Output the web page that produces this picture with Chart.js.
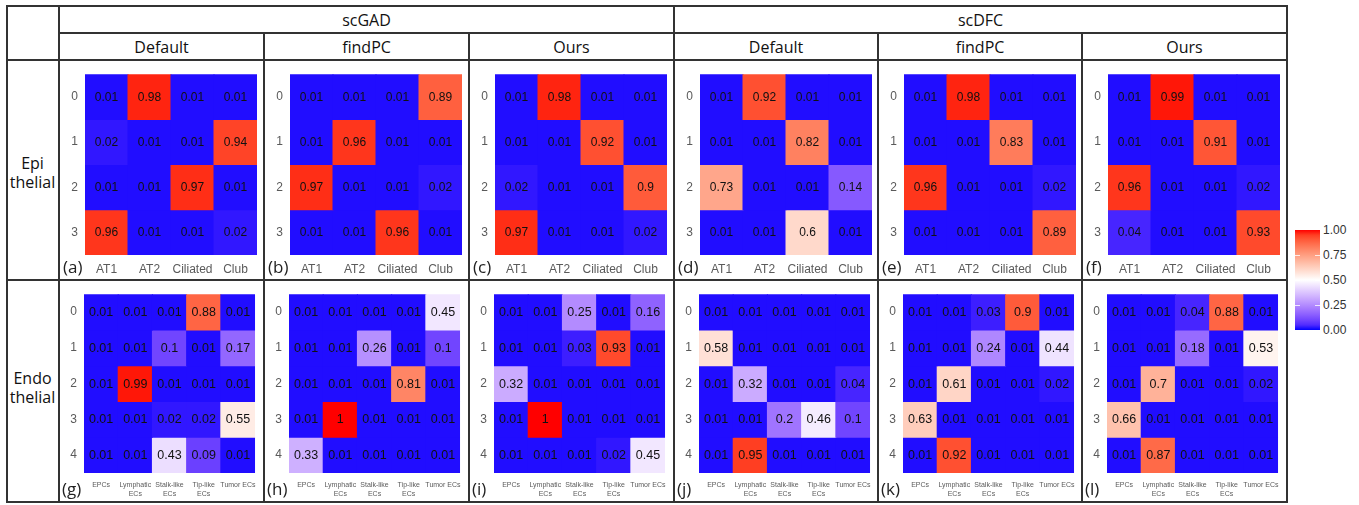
<!DOCTYPE html>
<html>
<head>
<meta charset="utf-8">
<script src="https://cdn.jsdelivr.net/npm/chart.js@4.4.1/dist/chart.umd.min.js"></script>
<style>
body { margin:0; background:#fff; width:1359px; height:505px; overflow:hidden; position:relative; font-family:"Open Sans", "Noto Sans", sans-serif; }
.ln { position:absolute; background:#333; z-index:5; }
.hd { position:absolute; text-align:center; font-size:16px; color:#111; }
.side { position:absolute; left:6px; width:53px; text-align:center; font-size:16px; line-height:19px; color:#111; }
.tag { position:absolute; font-size:17px; line-height:18px; color:#222; z-index:4; }
.lg { position:absolute; font-family:"Liberation Sans", Arial, sans-serif; font-size:12px; color:#333; }
canvas { position:absolute; }
</style>
</head>
<body>
<script>
// axis labels
const epiCols = ['AT1', 'AT2', 'Ciliated', 'Club'];
const epiRows = ['0', '1', '2', '3'];
const endoCols = ['EPCs', ['Lymphatic', 'ECs'], ['Stalk-like', 'ECs'], ['Tip-like', 'ECs'], 'Tumor ECs'];
const endoRows = ['0', '1', '2', '3', '4'];
const tools = ['scGAD', 'scDFC'];
const methods = ['Default', 'findPC', 'Ours'];
const tags = ['a','b','c','d','e','f','g','h','i','j','k','l'];
const legendTicks = [1.00, 0.75, 0.50, 0.25, 0.00];

// Epithelial, rows = cluster 0..3, cols = AT1 AT2 Ciliated Club
const epiGadDefault = [[0.01,0.98,0.01,0.01],[0.02,0.01,0.01,0.94],[0.01,0.01,0.97,0.01],[0.96,0.01,0.01,0.02]];
const epiGadFindPC  = [[0.01,0.01,0.01,0.89],[0.01,0.96,0.01,0.01],[0.97,0.01,0.01,0.02],[0.01,0.01,0.96,0.01]];
const epiGadOurs    = [[0.01,0.98,0.01,0.01],[0.01,0.01,0.92,0.01],[0.02,0.01,0.01,0.9],[0.97,0.01,0.01,0.02]];
const epiDfcDefault = [[0.01,0.92,0.01,0.01],[0.01,0.01,0.82,0.01],[0.73,0.01,0.01,0.14],[0.01,0.01,0.6,0.01]];
const epiDfcFindPC  = [[0.01,0.98,0.01,0.01],[0.01,0.01,0.83,0.01],[0.96,0.01,0.01,0.02],[0.01,0.01,0.01,0.89]];
const epiDfcOurs    = [[0.01,0.99,0.01,0.01],[0.01,0.01,0.91,0.01],[0.96,0.01,0.01,0.02],[0.04,0.01,0.01,0.93]];

// Endothelial, rows = cluster 0..4
const endoGadDefault = [[0.01,0.01,0.01,0.88,0.01],[0.01,0.01,0.1,0.01,0.17],[0.01,0.99,0.01,0.01,0.01],[0.01,0.01,0.02,0.02,0.55],[0.01,0.01,0.43,0.09,0.01]];
const endoGadFindPC  = [[0.01,0.01,0.01,0.01,0.45],[0.01,0.01,0.26,0.01,0.1],[0.01,0.01,0.01,0.81,0.01],[0.01,1,0.01,0.01,0.01],[0.33,0.01,0.01,0.01,0.01]];
const endoGadOurs    = [[0.01,0.01,0.25,0.01,0.16],[0.01,0.01,0.03,0.93,0.01],[0.32,0.01,0.01,0.01,0.01],[0.01,1,0.01,0.01,0.01],[0.01,0.01,0.01,0.02,0.45]];
const endoDfcDefault = [[0.01,0.01,0.01,0.01,0.01],[0.58,0.01,0.01,0.01,0.01],[0.01,0.32,0.01,0.01,0.04],[0.01,0.01,0.2,0.46,0.1],[0.01,0.95,0.01,0.01,0.01]];
const endoDfcFindPC  = [[0.01,0.01,0.03,0.9,0.01],[0.01,0.01,0.24,0.01,0.44],[0.01,0.61,0.01,0.01,0.02],[0.63,0.01,0.01,0.01,0.01],[0.01,0.92,0.01,0.01,0.01]];
const endoDfcOurs    = [[0.01,0.01,0.04,0.88,0.01],[0.01,0.01,0.18,0.01,0.53],[0.01,0.7,0.01,0.01,0.02],[0.66,0.01,0.01,0.01,0.01],[0.01,0.87,0.01,0.01,0.01]];

const epiPanels = [epiGadDefault, epiGadFindPC, epiGadOurs, epiDfcDefault, epiDfcFindPC, epiDfcOurs];
const endoPanels = [endoGadDefault, endoGadFindPC, endoGadOurs, endoDfcDefault, endoDfcFindPC, endoDfcOurs];

// blue - white - red, mixed in Lab like ggplot's gradient2
function lin(c) { c /= 255; return c <= 0.04045 ? c / 12.92 : Math.pow((c + 0.055) / 1.055, 2.4); }
function unlin(c) { var v = c <= 0.0031308 ? 12.92 * c : 1.055 * Math.pow(c, 1 / 2.4) - 0.055; return Math.round(Math.max(0, Math.min(1, v)) * 255); }
function toLab(rgb) {
	var R = lin(rgb[0]), G = lin(rgb[1]), B = lin(rgb[2]);
	var X = (0.4124 * R + 0.3576 * G + 0.1805 * B) / 0.95047;
	var Y = 0.2126 * R + 0.7152 * G + 0.0722 * B;
	var Z = (0.0193 * R + 0.1192 * G + 0.9505 * B) / 1.08883;
	var f = t => t > 0.008856 ? Math.cbrt(t) : 7.787 * t + 16 / 116;
	return [116 * f(Y) - 16, 500 * (f(X) - f(Y)), 200 * (f(Y) - f(Z))];
}
function fromLab(lab) {
	var fy = (lab[0] + 16) / 116, fx = fy + lab[1] / 500, fz = fy - lab[2] / 200;
	var g = t => t * t * t > 0.008856 ? t * t * t : (t - 16 / 116) / 7.787;
	var X = g(fx) * 0.95047, Y = g(fy), Z = g(fz) * 1.08883;
	var R = 3.2406 * X - 1.5372 * Y - 0.4986 * Z;
	var G = -0.9689 * X + 1.8758 * Y + 0.0415 * Z;
	var B = 0.0557 * X - 0.2040 * Y + 1.0570 * Z;
	return 'rgb(' + unlin(R) + ',' + unlin(G) + ',' + unlin(B) + ')';
}
const LOW = toLab([0,0,255]), MID = toLab([255,255,255]), HIGH = toLab([255,0,0]);
function fillFor(v) {
	var a, b, t;
	if (v < 0.5) { a = LOW; b = MID; t = v / 0.5; } else { a = MID; b = HIGH; t = (v - 0.5) / 0.5; }
	return fromLab([0,1,2].map(i => a[i] + (b[i] - a[i]) * t));
}

const cellText = {
	id: 'cellText',
	afterDatasetsDraw(chart, args, opts) {
		var ctx = chart.ctx;
		ctx.save();
		ctx.font = opts.size + 'px "Liberation Sans", Arial, sans-serif';
		ctx.fillStyle = '#111';
		ctx.textAlign = 'center';
		ctx.textBaseline = 'middle';
		chart.data.datasets.forEach((ds, i) => {
			chart.getDatasetMeta(i).data.forEach((bar, j) => {
				ctx.fillText(String(ds.values[j]), bar.x, (bar.y + bar.base) / 2 + 0.5);
			});
		});
		ctx.restore();
	}
};

function heatmap(left, top, w, h, rows, cols, vals, g) {
	var cv = document.createElement('canvas');
	cv.width = w; cv.height = h;
	cv.style.left = left + 'px'; cv.style.top = top + 'px';
	document.body.appendChild(cv);
	var datasets = rows.map((r, i) => ({
		label: r,
		data: cols.map(() => 1),
		values: vals[i],
		backgroundColor: vals[i].map(fillFor),
		borderWidth: 0,
		inflateAmount: 0.5,
		barPercentage: 1,
		categoryPercentage: 1
	}));
	new Chart(cv.getContext('2d'), {
		type: 'bar',
		data: { labels: cols, datasets: datasets },
		options: {
			responsive: false,
			animation: false,
			layout: { padding: { left: g.padL, right: g.padR, top: g.padT, bottom: g.padB } },
			plugins: { legend: { display: false }, tooltip: { enabled: false }, cellText: { size: g.size } },
			scales: {
				x: {
					stacked: true,
					grid: { display: false, drawTicks: false },
					border: { display: false },
					ticks: { color: '#5a5a5a', padding: g.xPad, maxRotation: 0, autoSkip: false,
						font: { family: '"Liberation Sans", Arial, sans-serif', size: g.xFont, lineHeight: 1.2 } },
					afterFit: s => { s.height = g.xH; }
				},
				y: { stacked: true, min: 0, max: rows.length, reverse: true, display: false },
				yl: {
					type: 'category', axis: 'y', position: 'left', labels: rows, offset: true,
					grid: { display: false, drawTicks: false },
					border: { display: false },
					ticks: { color: '#5a5a5a', padding: 7, font: { family: '"Liberation Sans", Arial, sans-serif', size: 12 } },
					afterFit: s => { s.width = g.yW; }
				}
			}
		},
		plugins: [cellText]
	});
}

const colX = [59, 264, 469, 674, 878, 1082, 1287];
const topGeo = { padL: 4, yW: 22, padR: 7, padT: 7, xH: 19, padB: 6, xPad: 7, xFont: 12, size: 12 };
const botGeo = { padL: 3, yW: 22, padR: 5, padT: 8, xH: 24, padB: 5, xPad: 8, xFont: 7, size: 12.5 };

epiPanels.forEach((p, k) => heatmap(colX[k], 60, 205, 220, epiRows, epiCols, p, topGeo));
endoPanels.forEach((p, k) => heatmap(colX[k], 280, 205, 222, endoRows, endoCols, p, botGeo));

function div(cls, css, html) {
	var d = document.createElement('div');
	d.className = cls;
	Object.assign(d.style, css);
	if (html !== undefined) d.innerHTML = html;
	document.body.appendChild(d);
	return d;
}

// table lines
[[5, 6, 1288], [32, 59, 1288], [59, 6, 1288], [279, 6, 1288], [501, 6, 1288]].forEach(l =>
	div('ln', { top: l[0] + 'px', left: l[1] + 'px', width: (l[2] - l[1]) + 'px', height: '2px' }));
[[6, 5], [58, 5], [673, 5], [1286, 5], [263, 32], [468, 32], [877, 32], [1081, 32]].forEach(l =>
	div('ln', { left: l[0] + 'px', top: l[1] + 'px', width: '2px', height: (503 - l[1]) + 'px' }));

// headers
tools.forEach((t, i) => div('hd', { left: colX[i * 3] + 'px', width: (colX[i * 3 + 3] - colX[i * 3]) + 'px', top: '7px', lineHeight: '26px' }, t));
for (var k = 0; k < 6; k++) {
	div('hd', { left: colX[k] + 'px', width: (colX[k + 1] - colX[k]) + 'px', top: '34px', lineHeight: '26px' }, methods[k % 3]);
	div('tag', { left: (colX[k] + 4) + 'px', top: '258px' }, '(' + tags[k] + ')');
	div('tag', { left: (colX[k] + 3) + 'px', top: '480px' }, '(' + tags[k + 6] + ')');
}
div('side', { top: '154px' }, 'Epi<br>thelial');
div('side', { top: '369px' }, 'Endo<br>thelial');

// colour bar legend
var stops = [];
for (var v = 1; v >= -0.001; v -= 0.05) stops.push(fillFor(Math.max(0, v)) + ' ' + ((1 - v) * 100).toFixed(1) + '%');
div('lg', { left: '1295px', top: '230px', width: '25px', height: '100px', background: 'linear-gradient(to bottom,' + stops.join(',') + ')' });
legendTicks.forEach(t => {
	var y = 230 + (1 - t) * 100;
	if (t > 0 && t < 1) {
		div('lg', { left: '1295px', top: (y - 0.5) + 'px', width: '5px', height: '1px', background: 'rgba(255,255,255,0.8)' });
		div('lg', { left: '1315px', top: (y - 0.5) + 'px', width: '5px', height: '1px', background: 'rgba(255,255,255,0.8)' });
	}
	div('lg', { left: '1323px', top: (y - 7) + 'px', lineHeight: '14px' }, t.toFixed(2));
});
</script>
</body>
</html>
